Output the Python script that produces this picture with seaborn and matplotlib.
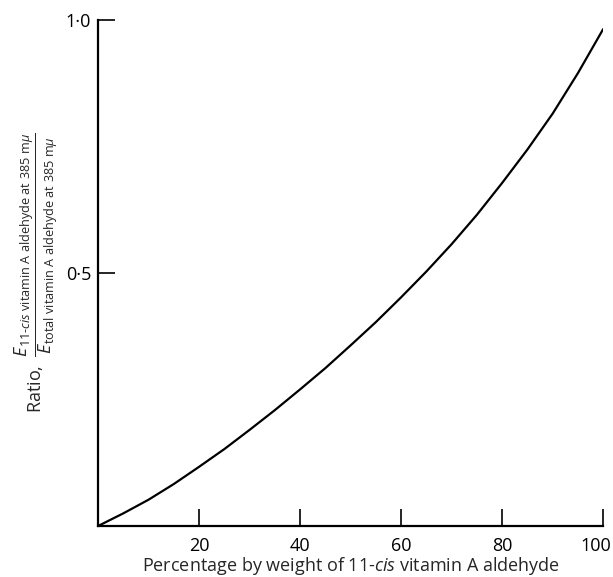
import matplotlib
matplotlib.use("Agg")
import matplotlib.pyplot as plt
import matplotlib.transforms as mtransforms
import seaborn as sns
import pandas as pd

# values
percent_cis = [0, 5, 10, 15, 20, 25, 30, 35, 40, 45, 50,
               55, 60, 65, 70, 75, 80, 85, 90, 95, 100]
ratio = [0.0, 0.025, 0.052, 0.083, 0.117, 0.152, 0.19, 0.229, 0.27, 0.312, 0.357,
         0.403, 0.452, 0.503, 0.557, 0.615, 0.678, 0.744, 0.815, 0.895, 0.982]

x_ticks = [20, 40, 60, 80, 100]
x_tick_labels = ["20", "40", "60", "80", "100"]
y_ticks = [0.5, 1.0]
y_tick_labels = ["0·5", "1·0"]

df = pd.DataFrame({"percent": percent_cis, "ratio": ratio})

sns.set_theme(style="ticks")
plt.rcParams["font.family"] = ["Open Sans", "DejaVu Sans"]
plt.rcParams["mathtext.fontset"] = "custom"
plt.rcParams["mathtext.rm"] = "Open Sans"
plt.rcParams["mathtext.it"] = "Open Sans:italic"
plt.rcParams["mathtext.bf"] = "Open Sans:bold"

fig = plt.figure(figsize=(6.13, 5.77), dpi=100)
ax = fig.add_axes([0.16, 0.0884, 0.824, 0.877])

sns.lineplot(data=df, x="percent", y="ratio", ax=ax, color="black", linewidth=1.6)

ax.set_xlim(0, 100)
ax.set_ylim(0, 1.0)
ax.set_xticks(x_ticks)
ax.set_xticklabels(x_tick_labels, fontsize=13)
ax.set_yticks(y_ticks)
ax.set_yticklabels(y_tick_labels, fontsize=13)
ax.tick_params(direction="in", length=12, width=1.2, colors="black")
ax.tick_params(axis="x", pad=8)
ax.tick_params(axis="y", pad=5)

# nudge the "100" label so it stays inside the figure like the original
last = ax.get_xticklabels()[-1]
last.set_transform(last.get_transform() + mtransforms.ScaledTranslation(-7 / 100, 0, fig.dpi_scale_trans))

for side in ["top", "right"]:
    ax.spines[side].set_visible(False)
for side in ["left", "bottom"]:
    ax.spines[side].set_linewidth(1.6)
    ax.spines[side].set_color("black")

ax.set_xlabel(r"Percentage by weight of 11-$\it{cis}$ vitamin A aldehyde", fontsize=13, labelpad=0)
ax.set_ylabel(
    r"Ratio,  $\dfrac{E_{\mathrm{11\text{-}}\mathit{cis}\ \mathrm{vitamin\ A\ aldehyde\ at\ 385\ m}\mu}}"
    r"{E_{\mathrm{total\ vitamin\ A\ aldehyde\ at\ 385\ m}\mu}}$",
    fontsize=13, labelpad=4,
)

fig.savefig("out.png", dpi=100, facecolor="white")
